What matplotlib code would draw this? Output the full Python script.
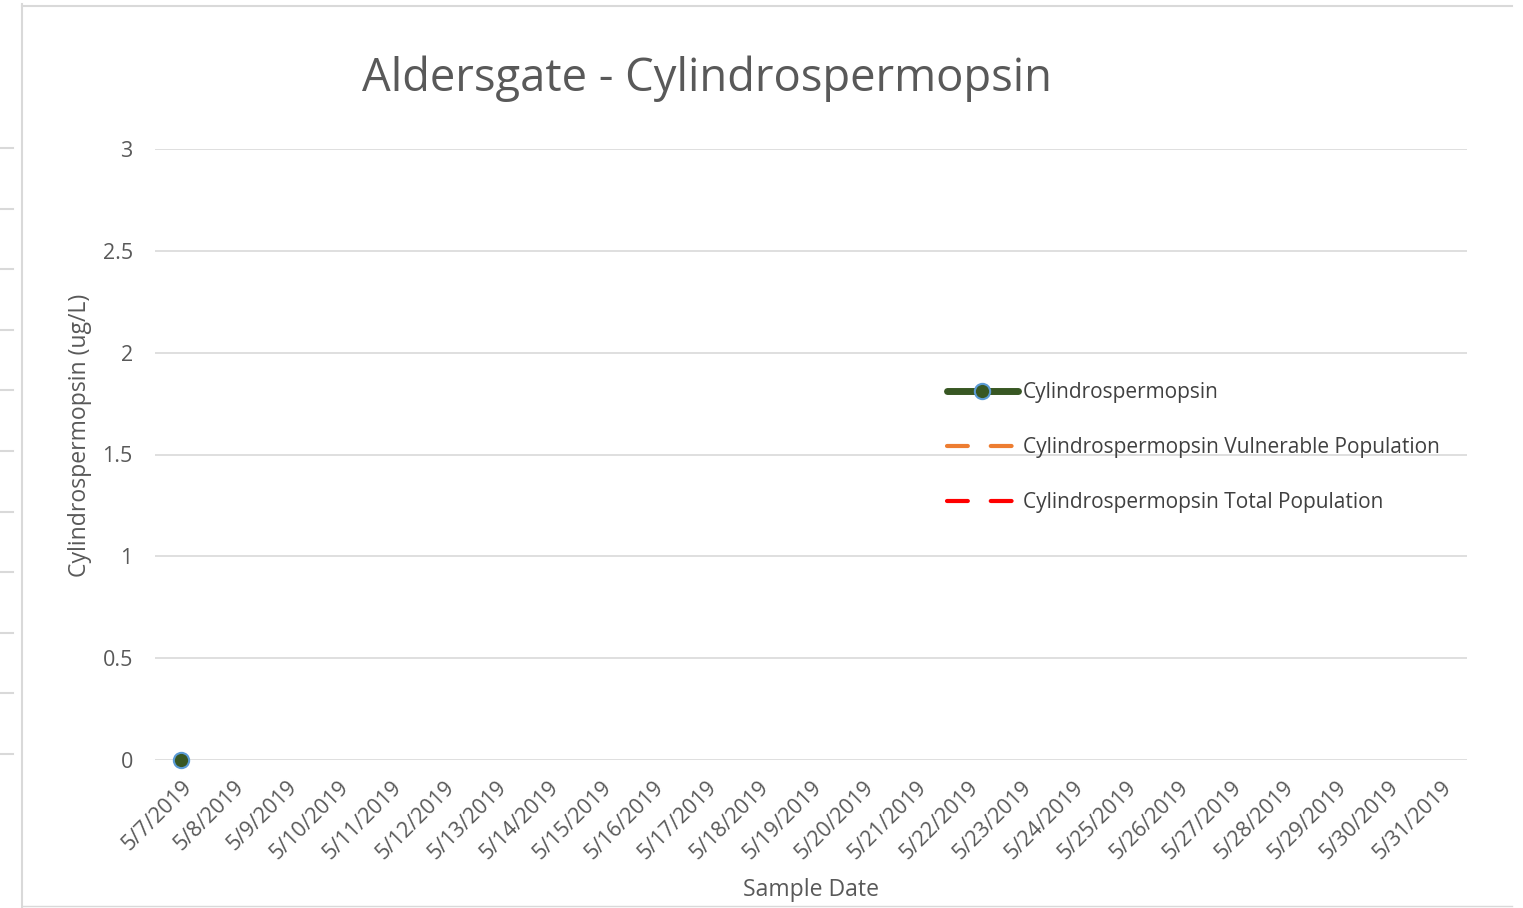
import numpy as np
import matplotlib.pyplot as plt
from matplotlib.lines import Line2D

# data
dates = ['5/%d/2019' % d for d in range(7, 32)]
cylindro = [0.0] + [np.nan] * 24
vulnerable = [np.nan] * 25
total = [np.nan] * 25

W, H = 1523, 908
plt.rcParams['font.family'] = ['Open Sans', 'DejaVu Sans']
fig = plt.figure(figsize=(W / 100, H / 100), dpi=100)

# frame lines left over from the sheet
grey = '#d9d9d9'
fig.add_artist(Line2D([22 / W, 22 / W], [0, 1 - 4 / H], transform=fig.transFigure, color=grey, lw=1.5))
fig.add_artist(Line2D([22 / W, 1512 / W], [1 - 6 / H, 1 - 6 / H], transform=fig.transFigure, color=grey, lw=1.5))
fig.add_artist(Line2D([22 / W, 1512 / W], [1 - 906 / H, 1 - 906 / H], transform=fig.transFigure, color=grey, lw=1))
for i in range(11):
    yy = 1 - (148 + i * 60.6) / H
    fig.add_artist(Line2D([0, 13 / W], [yy, yy], transform=fig.transFigure, color=grey, lw=1.5))

ax = fig.add_axes([155 / W, 1 - 760 / H, (1467 - 155) / W, (760 - 149) / H])
x = np.arange(len(dates))

ax.plot(x, cylindro, color='#385723', lw=5, marker='o', ms=11,
        mfc='#385723', mec='#5b9bd5', mew=1.5, label='Cylindrospermopsin',
        solid_capstyle='round', clip_on=False, zorder=5)
ax.plot(x, vulnerable, color='#ed7d31', lw=3, dashes=(5, 5.5), dash_capstyle='round',
        label='Cylindrospermopsin Vulnerable Population')
ax.plot(x, total, color='#ff0000', lw=3, dashes=(5, 5.5), dash_capstyle='round',
        label='Cylindrospermopsin Total Population')

ax.set_xlim(-0.5, len(dates) - 0.5)
ax.set_ylim(0, 3)
ax.set_yticks([0, 0.5, 1, 1.5, 2, 2.5, 3])
ax.set_yticklabels(['0', '0.5', '1', '1.5', '2', '2.5', '3'])
ax.set_xticks(x)
ax.set_xticklabels(dates, rotation=45, ha='right', va='top', rotation_mode='anchor')
ax.tick_params(axis='y', length=0, pad=16, labelsize=15.5, labelcolor='#595959')
ax.tick_params(axis='x', length=0, pad=12, labelsize=15.5, labelcolor='#595959')
ax.grid(axis='y', color=grey, lw=1.2)
ax.set_axisbelow(True)
for s in ax.spines.values():
    s.set_visible(False)

ax.set_ylabel('Cylindrospermopsin (ug/L)', fontsize=16.6, color='#595959')
ax.yaxis.set_label_coords(-0.048, 0.532)
fig.text(811 / W, 1 - 890 / H, 'Sample Date', ha='center', va='center', fontsize=16.6, color='#595959')
fig.text(707 / W, 1 - 79 / H, 'Aldersgate - Cylindrospermopsin', ha='center', va='center',
         fontsize=32.7, color='#595959')

leg = fig.legend(loc='upper left', bbox_to_anchor=(947 / W, 1 - 382 / H), frameon=False,
                 fontsize=15, handlelength=3.4, handletextpad=0.25, labelspacing=1.64,
                 borderpad=0, borderaxespad=0, numpoints=1)
for t in leg.get_texts():
    t.set_color('#404040')

fig.savefig('out.png', dpi=100)
